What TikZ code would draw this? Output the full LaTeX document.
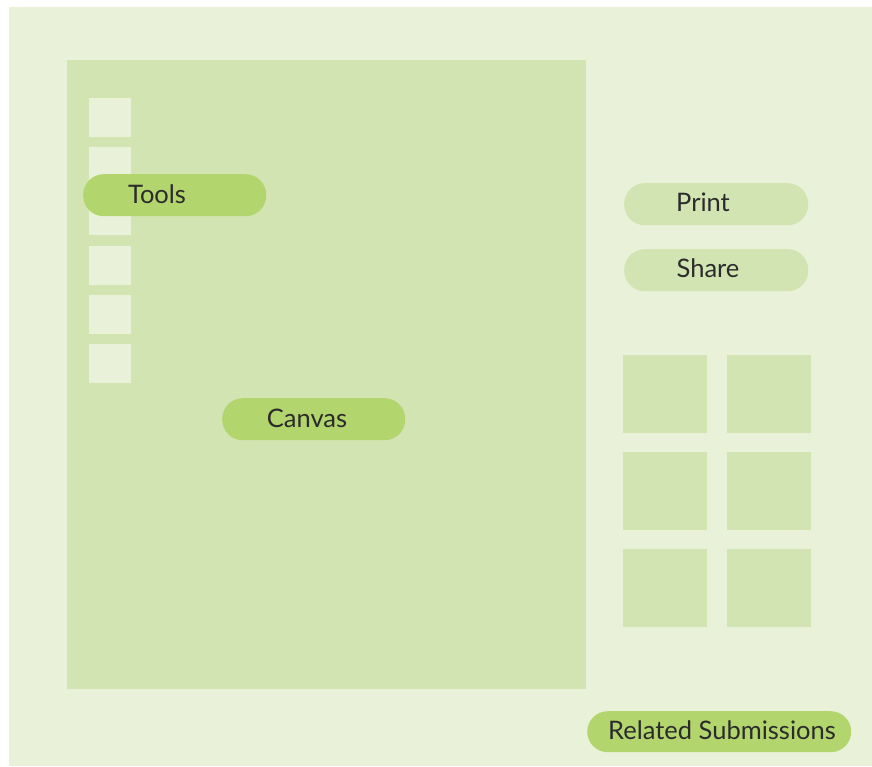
\documentclass[tikz,border=0pt]{standalone}
\usepackage{fontspec}
\setmainfont{Lato}
\definecolor{outerbg}{HTML}{E9F1D9}
\definecolor{panel}{HTML}{D3E4B3}
\definecolor{pilldark}{HTML}{B2D56D}
\definecolor{txt}{HTML}{2B2B2B}
\tikzset{
  box/.style={fill=#1, draw=none, inner sep=0pt, anchor=north west},
  pill/.style={fill=#1, draw=none, rounded corners=20.5pt, inner sep=0pt, anchor=north west},
  lbl/.style={text=txt, font=\fontsize{25.5}{28}\selectfont, inner sep=0pt}
}
\begin{document}
\begin{tikzpicture}[x=1pt,y=-1pt]
\useasboundingbox (0,0) rectangle (872,766);
% outer background
\node[box=outerbg, minimum width=863pt, minimum height=759pt] (page) at (9,7) {};
% canvas panel
\node[box=panel, minimum width=519pt, minimum height=629pt] (canvas) at (67,60) {};
% tool squares
\foreach \i/\y in {1/98,2/147,3/196,4/246,5/295,6/344}{
  \node[box=outerbg, minimum width=42pt, minimum height=39pt] (tool\i) at (89,\y) {};
}
% right grid
\foreach \r/\y in {1/355,2/452,3/549}{
  \node[box=panel, minimum width=84pt, minimum height=78pt] (g\r a) at (623,\y) {};
  \node[box=panel, minimum width=84pt, minimum height=78pt] (g\r b) at (727,\y) {};
}
% pills
\node[pill=pilldark, minimum width=183pt, minimum height=42pt] (toolsP) at (83,174) {};
\node[lbl] (toolsT) at (157,194) {Tools};
\node[pill=panel, minimum width=184pt, minimum height=42pt] (printP) at (624,183) {};
\node[lbl] (printT) at (703,202) {Print};
\node[pill=panel, minimum width=184pt, minimum height=42pt] (shareP) at (624,249) {};
\node[lbl] (shareT) at (708,268) {Share};
\node[pill=pilldark, minimum width=183pt, minimum height=42pt] (canvasP) at (222,398) {};
\node[lbl] (canvasT) at (307,418) {Canvas};
\node[pill=pilldark, minimum width=264pt, minimum height=41pt] (relP) at (587,711) {};
\node[lbl] (relT) at (722,730) {Related Submissions};
\end{tikzpicture}
\end{document}
